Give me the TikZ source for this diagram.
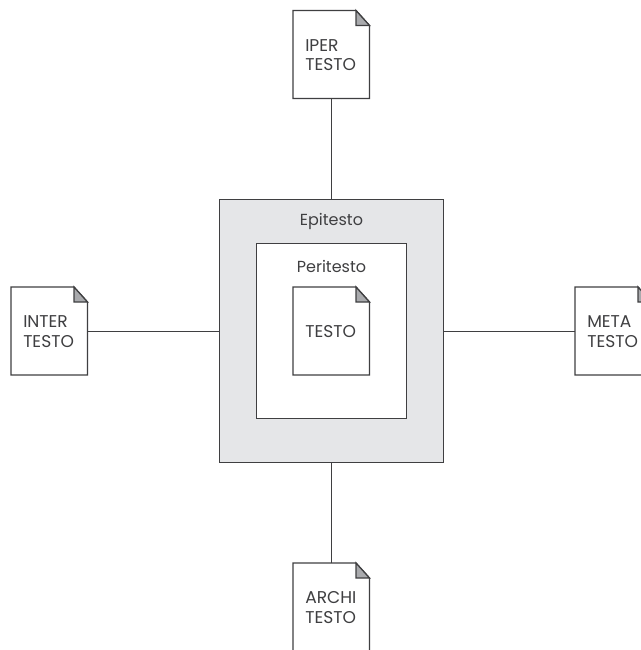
\documentclass[tikz,border=0pt]{standalone}
\usepackage{fontspec}
\setmainfont{Poppins}
\definecolor{ink}{HTML}{3F3F41}
\definecolor{foldgrey}{HTML}{A9AAAD}
\definecolor{panel}{HTML}{E5E6E8}
\tikzset{
  x=0.75pt,y=-0.75pt,
  docspot/.style={minimum width=57pt,minimum height=66pt,inner sep=0pt,outer sep=0pt},
  doctext/.style={font=\fontsize{12.8pt}{14.8pt}\selectfont,text=ink,align=left,anchor=west,inner sep=0pt},
  boxlabel/.style={font=\fontsize{12pt}{14pt}\selectfont,text=ink,inner sep=0pt},
  docline/.style={draw=ink,line width=0.95pt,line join=miter},
  conn/.style={draw=ink,line width=0.75pt},
  frame/.style={draw=ink,line width=0.7pt,inner sep=0pt,outer sep=0pt,anchor=north west}
}
% #1 name, #2 left, #3 top, #4 text
\newcommand{\docsheet}[4]{%
  \node[docspot,anchor=north west] (#1) at (#2,#3) {};
  \draw[docline,fill=white] (#2,#3) -- ++(63,0) -- ++(13.5,15) -- ++(0,73) -- ++(-76.5,0) -- cycle;
  \draw[docline,fill=foldgrey] (#2+63,#3) -- ++(13.5,15) -- ++(-13.5,0) -- cycle;
  \node[doctext] (#1t) at (#2+12,#3+44.5) {#4};
}
\begin{document}
\begin{tikzpicture}
\useasboundingbox (0,0) rectangle (641,650);
\fill[white] (0,0) rectangle (641,650);
\node[frame,fill=panel,minimum width=168.4pt,minimum height=197pt] (epi) at (219,199.5) {};
\node[frame,fill=white,minimum width=112.5pt,minimum height=131.25pt] (peri) at (256.5,243.5) {};
\node[boxlabel] (epil) at (331.5,221) {Epitesto};
\node[boxlabel] (peril) at (331.5,266) {Peritesto};
\docsheet{iper}{293}{10.5}{IPER\\TESTO}
\docsheet{inter}{11}{287}{INTER\\TESTO}
\docsheet{meta}{575}{287}{META\\TESTO}
\docsheet{archi}{293}{563}{ARCHI\\TESTO}
\docsheet{testo}{293}{287}{TESTO}
\draw[conn] (iper.south) -- (iper.south |- epi.north);
\draw[conn] (archi.north |- epi.south) -- (archi.north);
\draw[conn] (inter.east) -- (inter.east -| epi.west);
\draw[conn] (meta.west -| epi.east) -- (meta.west);
\end{tikzpicture}
\end{document}
